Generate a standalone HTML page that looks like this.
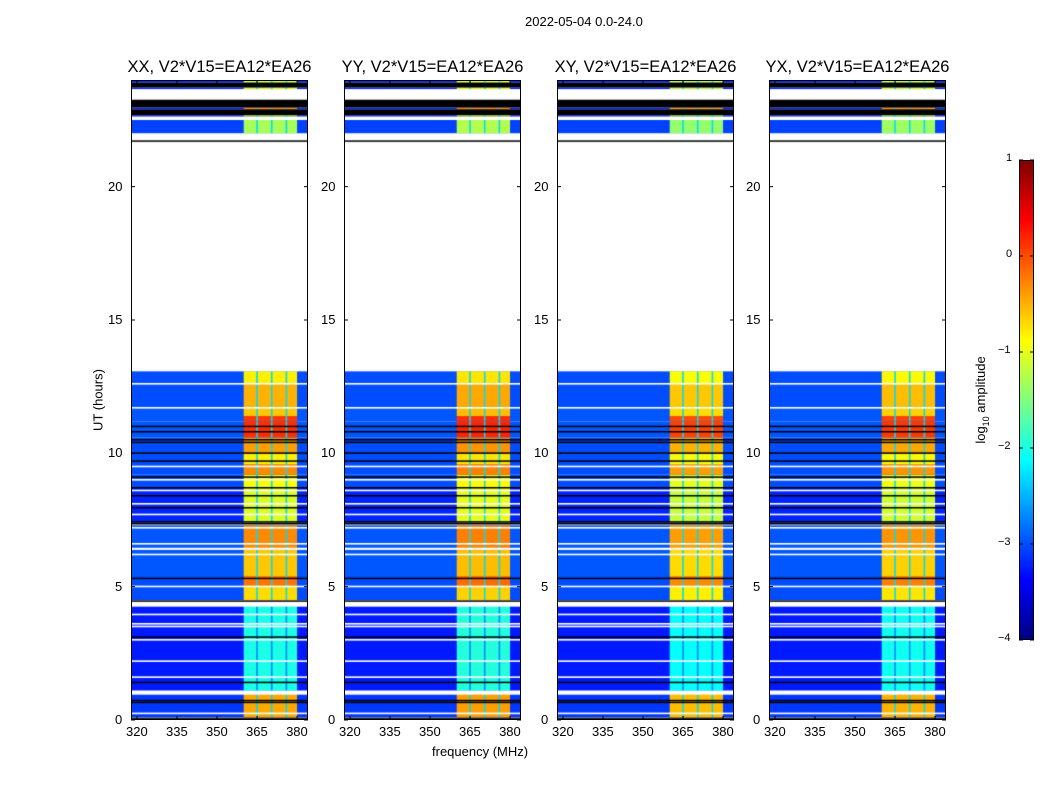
<!DOCTYPE html>
<html><head><meta charset="utf-8">
<style>
body{margin:0;background:#fff;font-family:"Liberation Sans",sans-serif;}
#wrap{position:relative;width:1050px;height:800px;overflow:hidden;background:#fff;}
.t{position:absolute;font-size:13px;color:#000;white-space:nowrap;}
.title{position:absolute;font-size:16.5px;color:#000;white-space:nowrap;transform:translateX(-50%);}
canvas{position:absolute;}
svg{position:absolute;left:0;top:0;}
</style></head>
<body>
<div id="wrap">
<div class="t" style="left:525px;top:14px">2022-05-04 0.0-24.0</div>
<div class="t" style="left:432px;top:744px">frequency (MHz)</div>
<div class="t" style="left:98px;top:400px;transform:translate(-50%,-50%) rotate(-90deg)">UT (hours)</div>
<div class="t" style="left:982px;top:400px;transform:translate(-50%,-50%) rotate(-90deg)">log<sub style="font-size:9px">10</sub> amplitude</div>
<canvas id="cbar" width="15" height="480" style="left:1019px;top:160px"></canvas>
<svg id="ov" width="1050" height="800"></svg>
</div>
<script>
// ---- data ----
const panelNames = ["XX, V2*V15=EA12*EA26","YY, V2*V15=EA12*EA26","XY, V2*V15=EA12*EA26","YX, V2*V15=EA12*EA26"];
const panelOffset = [0, 0.05, -0.1, -0.05];
// data rows in hours: start, end, band level (log10), background level
const rowStart = [0.1, 1.1, 4.5, 5.0, 5.4, 6.4, 7.4, 8.7, 9.2, 9.6, 10.0, 10.6, 11.2, 11.4, 11.7, 12.6, 22.0, 22.63, 22.9, 23.66, 23.9];
const rowEnd   = [1.0, 4.3, 5.0, 5.4, 6.4, 7.3, 8.7, 9.2, 9.6, 10.0, 10.6, 11.2, 11.4, 11.7, 12.6, 13.08, 22.5, 22.68, 22.97, 23.72, 24.0];
const rowBand  = [-0.45,-2.0,-0.7,-0.2,-0.6,-0.3,-1.05,-0.9,-0.3,-0.8,-0.4,0.15,0.1,-0.6,-0.5,-0.8,-1.3,-1.1,-0.3,-1.0,-1.1];
const rowBg    = [-3.1,-3.25,-3.0,-3.0,-2.95,-2.95,-3.2,-3.0,-3.0,-3.0,-3.0,-2.95,-2.95,-2.95,-3.0,-3.0,-3.05,-3.2,-3.2,-3.2,-3.2];
const blackLines = [0.05, 0.65, 0.72, 1.4, 3.1, 4.45, 5.3, 7.35, 7.42, 7.95, 8.4, 8.7, 9.1, 9.7, 10.0, 10.4, 10.5, 10.8, 11.0, 21.7];
const blackBlocks = [[22.68,22.9],[22.97,23.27],[23.72,23.9]];
const whiteLines = [0.24, 1.6, 2.2, 3.0, 3.5, 3.6, 3.95, 5.0, 6.2, 6.6, 7.2, 7.7, 8.1, 8.6, 9.0, 9.5, 11.7, 12.6, 21.95, 21.85];
const whiteBlocks = [[0.95,1.1],[4.25,4.42],[6.38,6.46],[13.08,21.65],[22.5,22.6],[23.27,23.6]];
const gapFreqs = [365, 370.5, 376];
const xTicks = [320,335,350,365,380];
const yTicks = [0,5,10,15,20];
const cbTicks = [1,0,-1,-2,-3,-4];

// ---- geometry ----
const panelLeft = [131,344,557,769];
const PW = 177, PT = 80, PB = 720, F0 = 317.75, F1 = 384.1;
const yOf = h => PB - h*(PB-PT)/24;
const xOf = (i,f) => panelLeft[i] + (f-F0)/(F1-F0)*PW;
function jet(v){const t=Math.max(0,Math.min(1,(v+4)/5));const c=x=>Math.round(255*Math.max(0,Math.min(1,1.5-Math.abs(4*t-x))));return `rgb(${c(3)},${c(2)},${c(1)})`;}

const wrap=document.getElementById('wrap');
const ov=document.getElementById('ov');
const NS='http://www.w3.org/2000/svg';
function sv(tag,attrs){const e=document.createElementNS(NS,tag);for(const k in attrs)e.setAttribute(k,attrs[k]);ov.appendChild(e);return e;}

panelNames.forEach((nm,i)=>{
  const cv=document.createElement('canvas');
  cv.width=PW;cv.height=PB-PT;
  cv.style.left=panelLeft[i]+'px';cv.style.top=PT+'px';
  
  
  wrap.insertBefore(cv,ov);
  const g=cv.getContext('2d');
  g.fillStyle='#fff';g.fillRect(0,0,PW,PB-PT);
  const lx=f=>(f-F0)/(F1-F0)*PW, ly=h=>yOf(h)-PT;
  rowStart.forEach((s,r)=>{
    const y0=ly(rowEnd[r]), y1=ly(s), hh=y1-y0;
    g.fillStyle=jet(rowBg[r]);g.fillRect(0,y0,PW,hh);
    g.fillStyle=jet(rowBand[r]+panelOffset[i]);g.fillRect(lx(360),y0,lx(380)-lx(360),hh);
    g.fillStyle=jet(Math.min(rowBand[r],-1.6)-0.7);
    gapFreqs.forEach(f=>g.fillRect(lx(f)-0.8,y0,1.6,hh));
  });
  g.fillStyle='#000';
  blackLines.forEach(h=>g.fillRect(0,ly(h)-1,PW,1.5));
  blackBlocks.forEach(b=>g.fillRect(0,ly(b[1]),PW,ly(b[0])-ly(b[1])));
  g.fillStyle='#fff';
  whiteLines.forEach(h=>g.fillRect(0,ly(h)-1,PW,1.6));
  whiteBlocks.forEach(b=>g.fillRect(0,ly(b[1]),PW,ly(b[0])-ly(b[1])));

  const fr=sv('rect',{x:panelLeft[i]+0.5,y:PT+0.5,width:PW-1,height:PB-PT-1,fill:'none',stroke:'#000','stroke-width':1});
  
  
  const ti=document.createElement('div');ti.className='title';ti.textContent=nm;
  ti.style.left=(panelLeft[i]+PW/2)+'px';ti.style.top='58px';
  
  
  wrap.appendChild(ti);
  xTicks.forEach(f=>{
    const x=xOf(i,f);
    sv('line',{x1:x,x2:x,y1:PB,y2:PB-4,stroke:'#000'});
    sv('line',{x1:x,x2:x,y1:PT,y2:PT+4,stroke:'#000'});
    const t=document.createElement('div');t.className='t';t.textContent=f;
    t.style.left=(x-11)+'px';t.style.top='724px';
    
    
    wrap.appendChild(t);
  });
  yTicks.forEach(h=>{
    const y=yOf(h);
    sv('line',{x1:panelLeft[i],x2:panelLeft[i]+4,y1:y,y2:y,stroke:'#000'});
    sv('line',{x1:panelLeft[i]+PW,x2:panelLeft[i]+PW-4,y1:y,y2:y,stroke:'#000'});
    const t=document.createElement('div');t.className='t';t.textContent=h;
    t.style.left=(panelLeft[i]-8-(h>=10?15:8))+'px';t.style.top=(y-8)+'px';
    
    
    wrap.appendChild(t);
  });
});

// colorbar
const cb=document.getElementById('cbar').getContext('2d');
for(let y=0;y<480;y++){cb.fillStyle=jet(1-5*y/480);cb.fillRect(0,y,15,1);}
sv('rect',{x:1019.5,y:160.5,width:14,height:479,fill:'none',stroke:'#000'});
cbTicks.forEach(v=>{
  const y=160+(1-v)/5*480;
  sv('line',{x1:1019,x2:1023,y1:y,y2:y,stroke:'#000'});
  sv('line',{x1:1034,x2:1030,y1:y,y2:y,stroke:'#000'});
  const t=document.createElement('div');t.className='t';t.style.fontSize='11px';
  t.textContent=v<0?'\u2212'+(-v):String(v);
  t.style.left=(v<0?998:1006)+'px';t.style.top=(y-8)+'px';
  
  
  wrap.appendChild(t);
});
</script>
</body></html>
